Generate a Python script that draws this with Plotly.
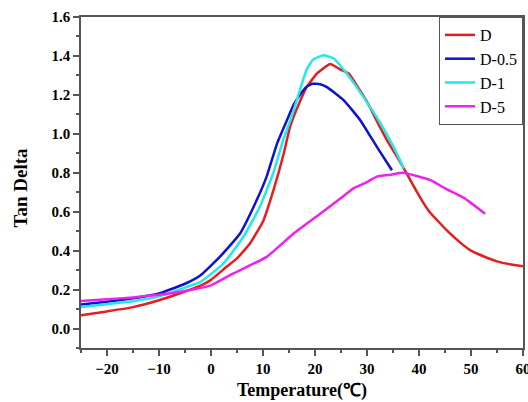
import plotly.graph_objects as go

# Data
t_D = [-25, -20, -15, -10, -5, -2, 0, 3, 5, 7.5, 10, 12, 14, 15.2, 17, 18.4, 20.4, 22.9, 24.9, 26.5,
       28, 30, 32, 34, 36.4, 39, 40.4, 42, 45.5, 48, 50, 52.5, 55, 57.5, 60]
v_D = [0.068, 0.088, 0.11, 0.145, 0.19, 0.22, 0.25, 0.317, 0.36, 0.437, 0.55, 0.71, 0.90, 1.036, 1.16,
       1.24, 1.31, 1.358, 1.33, 1.31, 1.25, 1.165, 1.06, 0.96, 0.855, 0.73, 0.665, 0.60, 0.50, 0.44,
       0.40, 0.37, 0.345, 0.33, 0.32]

t_D05 = [-25, -20, -15, -10, -5, -2, 1.7, 5.6, 8.2, 10.7, 12.7, 14.6, 15.9, 17.1, 18.3, 19.5, 21,
         22.3, 25.5, 28.7, 31.9, 34.8]
v_D05 = [0.123, 0.138, 0.155, 0.18, 0.23, 0.274, 0.368, 0.488, 0.625, 0.78, 0.95, 1.07, 1.15, 1.20,
         1.24, 1.257, 1.255, 1.24, 1.173, 1.07, 0.933, 0.813]

t_D1 = [-25, -20, -15, -10, -5, -2, 2.4, 6.2, 9.4, 12, 13.9, 15.5, 17.1, 18.4, 19.6, 21.6, 23.6, 26.1,
        29.3, 32.6, 35.1, 37.1]
v_D1 = [0.111, 0.125, 0.14, 0.165, 0.21, 0.24, 0.334, 0.47, 0.625, 0.80, 0.97, 1.087, 1.224, 1.33,
        1.38, 1.404, 1.387, 1.31, 1.19, 1.053, 0.933, 0.822]

t_D5 = [-25, -20, -15, -10, -5, 0, 4.3, 10.7, 15.9, 21, 25, 27.4, 29.5, 31.9, 34.6, 36.9, 42.2, 45,
        48.7, 52.7]
v_D5 = [0.142, 0.15, 0.16, 0.173, 0.193, 0.222, 0.283, 0.368, 0.488, 0.59, 0.67, 0.72, 0.745, 0.78,
        0.79, 0.80, 0.762, 0.72, 0.67, 0.59]

series = [
    ("D", t_D, v_D, "#e81c1c"),
    ("D-0.5", t_D05, v_D05, "#1010d0"),
    ("D-1", t_D1, v_D1, "#22e8e8"),
    ("D-5", t_D5, v_D5, "#ee22ee"),
]

FONT = "Liberation Serif, Times New Roman, serif"

fig = go.Figure()
for name, t, v, c in series:
    fig.add_trace(go.Scatter(x=t, y=v, mode="lines", name=name,
                             line=dict(color=c, width=2.5, shape="spline", smoothing=0.4)))

axis_common = dict(
    showline=True, linecolor="#555555", linewidth=1.5, mirror=True,
    ticks="outside", ticklen=6, tickwidth=1.5, tickcolor="#555555",
    showgrid=False, zeroline=False, ticklabeloverflow="allow", automargin=False,
    tickfont=dict(family=FONT, size=15, color="black", weight="bold"),
)

fig.update_xaxes(range=[-25, 60], tick0=-20, dtick=10,
                 minor=dict(ticks="outside", dtick=5, tick0=-25, ticklen=3, tickwidth=1.5, tickcolor="#555555"),
                 **axis_common)
fig.update_yaxes(range=[-0.1, 1.6], tick0=0, dtick=0.2, tickformat=".1f",
                 minor=dict(ticks="outside", dtick=0.1, tick0=-0.1, ticklen=3, tickwidth=1.5, tickcolor="#555555"),
                 **axis_common)

fig.update_layout(
    width=528, height=402,
    margin=dict(l=81, r=5, t=17, b=54),
    paper_bgcolor="white", plot_bgcolor="white",
    font=dict(family=FONT, color="black"),
    legend=dict(x=1, y=1, xanchor="right", yanchor="top",
                bordercolor="#555555", borderwidth=1, bgcolor="white",
                font=dict(family=FONT, size=16, color="black"),
                tracegroupgap=0, itemwidth=30),
    annotations=[
        dict(text="Tan Delta", textangle=-90, xref="paper", yref="paper",
             x=-0.138, y=0.485, xanchor="center", yanchor="middle", showarrow=False,
             font=dict(family=FONT, size=19, color="black", weight="bold")),
        dict(text="Temperature(℃)", xref="paper", yref="paper",
             x=0.5, y=-0.128, xanchor="center", yanchor="middle", showarrow=False,
             font=dict(family=FONT, size=18, color="black", weight="bold")),
    ],
)

fig.write_html("out.html", config={"displayModeBar": False},
               post_script="document.body.style.margin='0';document.body.style.padding='0';")
